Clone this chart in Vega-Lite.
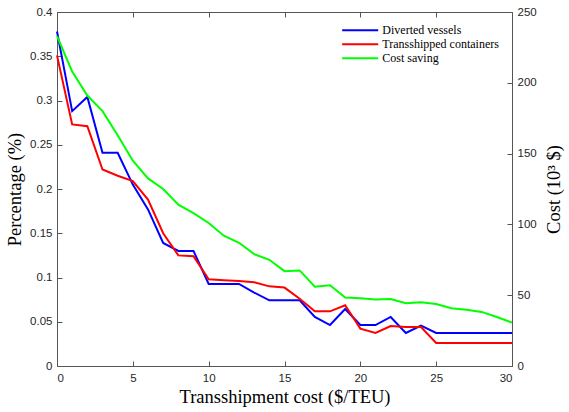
{
  "$schema": "https://vega.github.io/schema/vega-lite/v6.json",
  "width": 455,
  "height": 354,
  "autosize": "none",
  "padding": {"left": 57, "top": 12, "right": 57, "bottom": 46},
  "background": "white",
  "config": {
    "view": {"stroke": null},
    "axis": {
      "grid": false,
      "domain": true,
      "domainColor": "#555555",
      "ticks": true,
      "tickColor": "#555555",
      "tickSize": -5,
      "tickWidth": 1,
      "labelFont": "Liberation Sans",
      "labelFontSize": 11.5,
      "labelColor": "#262626",
      "titleFont": "Liberation Serif",
      "titleFontSize": 18.5,
      "titleFontWeight": "normal",
      "titleColor": "#000000"
    }
  },
  "data": {
    "values": [
      {"x": 0, "series": "Diverted vessels", "value": 0.378},
      {"x": 1, "series": "Diverted vessels", "value": 0.288},
      {"x": 2, "series": "Diverted vessels", "value": 0.304},
      {"x": 3, "series": "Diverted vessels", "value": 0.241},
      {"x": 4, "series": "Diverted vessels", "value": 0.241},
      {"x": 5, "series": "Diverted vessels", "value": 0.205},
      {"x": 6, "series": "Diverted vessels", "value": 0.177},
      {"x": 7, "series": "Diverted vessels", "value": 0.139},
      {"x": 8, "series": "Diverted vessels", "value": 0.130},
      {"x": 9, "series": "Diverted vessels", "value": 0.130},
      {"x": 10, "series": "Diverted vessels", "value": 0.0927},
      {"x": 11, "series": "Diverted vessels", "value": 0.0927},
      {"x": 12, "series": "Diverted vessels", "value": 0.0927},
      {"x": 13, "series": "Diverted vessels", "value": 0.083},
      {"x": 14, "series": "Diverted vessels", "value": 0.0742},
      {"x": 15, "series": "Diverted vessels", "value": 0.0742},
      {"x": 16, "series": "Diverted vessels", "value": 0.0742},
      {"x": 17, "series": "Diverted vessels", "value": 0.0554},
      {"x": 18, "series": "Diverted vessels", "value": 0.0463},
      {"x": 19, "series": "Diverted vessels", "value": 0.0644},
      {"x": 20, "series": "Diverted vessels", "value": 0.0463},
      {"x": 21, "series": "Diverted vessels", "value": 0.0463},
      {"x": 22, "series": "Diverted vessels", "value": 0.0554},
      {"x": 23, "series": "Diverted vessels", "value": 0.0373},
      {"x": 24, "series": "Diverted vessels", "value": 0.0456},
      {"x": 25, "series": "Diverted vessels", "value": 0.0373},
      {"x": 26, "series": "Diverted vessels", "value": 0.0373},
      {"x": 27, "series": "Diverted vessels", "value": 0.0373},
      {"x": 28, "series": "Diverted vessels", "value": 0.0373},
      {"x": 29, "series": "Diverted vessels", "value": 0.0373},
      {"x": 30, "series": "Diverted vessels", "value": 0.0373},
      {"x": 0, "series": "Transshipped containers", "value": 0.351},
      {"x": 1, "series": "Transshipped containers", "value": 0.273},
      {"x": 2, "series": "Transshipped containers", "value": 0.271},
      {"x": 3, "series": "Transshipped containers", "value": 0.222},
      {"x": 4, "series": "Transshipped containers", "value": 0.215},
      {"x": 5, "series": "Transshipped containers", "value": 0.209},
      {"x": 6, "series": "Transshipped containers", "value": 0.188},
      {"x": 7, "series": "Transshipped containers", "value": 0.150},
      {"x": 8, "series": "Transshipped containers", "value": 0.125},
      {"x": 9, "series": "Transshipped containers", "value": 0.124},
      {"x": 10, "series": "Transshipped containers", "value": 0.098},
      {"x": 11, "series": "Transshipped containers", "value": 0.097},
      {"x": 12, "series": "Transshipped containers", "value": 0.096},
      {"x": 13, "series": "Transshipped containers", "value": 0.0946},
      {"x": 14, "series": "Transshipped containers", "value": 0.090},
      {"x": 15, "series": "Transshipped containers", "value": 0.0886},
      {"x": 16, "series": "Transshipped containers", "value": 0.076},
      {"x": 17, "series": "Transshipped containers", "value": 0.0618},
      {"x": 18, "series": "Transshipped containers", "value": 0.0618},
      {"x": 19, "series": "Transshipped containers", "value": 0.0686},
      {"x": 20, "series": "Transshipped containers", "value": 0.0422},
      {"x": 21, "series": "Transshipped containers", "value": 0.0373},
      {"x": 22, "series": "Transshipped containers", "value": 0.0452},
      {"x": 23, "series": "Transshipped containers", "value": 0.044},
      {"x": 24, "series": "Transshipped containers", "value": 0.044},
      {"x": 25, "series": "Transshipped containers", "value": 0.026},
      {"x": 26, "series": "Transshipped containers", "value": 0.026},
      {"x": 27, "series": "Transshipped containers", "value": 0.026},
      {"x": 28, "series": "Transshipped containers", "value": 0.026},
      {"x": 29, "series": "Transshipped containers", "value": 0.026},
      {"x": 30, "series": "Transshipped containers", "value": 0.026},
      {"x": 0, "series": "Cost saving", "value": 233},
      {"x": 1, "series": "Cost saving", "value": 208},
      {"x": 2, "series": "Cost saving", "value": 191},
      {"x": 3, "series": "Cost saving", "value": 180},
      {"x": 4, "series": "Cost saving", "value": 163},
      {"x": 5, "series": "Cost saving", "value": 145},
      {"x": 6, "series": "Cost saving", "value": 132.5},
      {"x": 7, "series": "Cost saving", "value": 125},
      {"x": 8, "series": "Cost saving", "value": 114},
      {"x": 9, "series": "Cost saving", "value": 108},
      {"x": 10, "series": "Cost saving", "value": 101},
      {"x": 11, "series": "Cost saving", "value": 92},
      {"x": 12, "series": "Cost saving", "value": 87},
      {"x": 13, "series": "Cost saving", "value": 79},
      {"x": 14, "series": "Cost saving", "value": 75},
      {"x": 15, "series": "Cost saving", "value": 67},
      {"x": 16, "series": "Cost saving", "value": 67.5},
      {"x": 17, "series": "Cost saving", "value": 56},
      {"x": 18, "series": "Cost saving", "value": 57},
      {"x": 19, "series": "Cost saving", "value": 48.3},
      {"x": 20, "series": "Cost saving", "value": 47.8},
      {"x": 21, "series": "Cost saving", "value": 47},
      {"x": 22, "series": "Cost saving", "value": 47.3},
      {"x": 23, "series": "Cost saving", "value": 44.3},
      {"x": 24, "series": "Cost saving", "value": 45},
      {"x": 25, "series": "Cost saving", "value": 43.8},
      {"x": 26, "series": "Cost saving", "value": 40.8},
      {"x": 27, "series": "Cost saving", "value": 39.8},
      {"x": 28, "series": "Cost saving", "value": 38.2},
      {"x": 29, "series": "Cost saving", "value": 34.6},
      {"x": 30, "series": "Cost saving", "value": 30.6}
    ]
  },
  "layer": [
    {
      "transform": [{"filter": "datum.series !== 'Cost saving'"}],
      "mark": {"type": "line", "strokeWidth": 2},
      "encoding": {
        "x": {
          "field": "x", "type": "quantitative",
          "scale": {"domain": [0, 30], "nice": false},
          "axis": {"orient": "bottom", "values": [0, 5, 10, 15, 20, 25, 30], "title": "Transshipment cost ($/TEU)", "labelPadding": 11, "titlePadding": 4}
        },
        "y": {
          "field": "value", "type": "quantitative",
          "scale": {"domain": [0, 0.4], "nice": false},
          "axis": {"orient": "left", "values": [0, 0.05, 0.1, 0.15, 0.2, 0.25, 0.3, 0.35, 0.4], "format": "~g", "title": "Percentage (%)", "labelPadding": 10, "titlePadding": 5}
        },
        "color": {
          "field": "series", "type": "nominal",
          "scale": {"domain": ["Diverted vessels", "Transshipped containers", "Cost saving"], "range": ["#0000ff", "#ff0000", "#00ff00"]},
          "legend": {
            "orient": "none",
            "legendX": 284,
            "legendY": 10.7,
            "title": null,
            "symbolType": "M-2.85,0H2.85",
            "symbolSize": 160,
            "symbolOffset": 11.68,
            "symbolStrokeWidth": 2,
            "symbolFillColor": "transparent",
            "labelFont": "Liberation Serif",
            "labelFontSize": 12,
            "labelColor": "#000000",
            "rowPadding": 0,
            "labelOffset": 14.67
          }
        }
      }
    },
    {
      "transform": [{"filter": "datum.series === 'Cost saving'"}],
      "mark": {"type": "line", "strokeWidth": 2},
      "encoding": {
        "x": {
          "field": "x", "type": "quantitative",
          "scale": {"domain": [0, 30], "nice": false},
          "axis": {"orient": "top", "values": [0, 5, 10, 15, 20, 25, 30], "labels": false, "title": null}
        },
        "y": {
          "field": "value", "type": "quantitative",
          "scale": {"domain": [0, 250], "nice": false},
          "axis": {"orient": "right", "values": [0, 50, 100, 150, 200, 250], "title": "Cost (10³ $)", "titleAngle": -90, "titleBaseline": "top", "labelPadding": 10, "titlePadding": 8}
        },
        "color": {
          "field": "series", "type": "nominal",
          "scale": {"domain": ["Diverted vessels", "Transshipped containers", "Cost saving"], "range": ["#0000ff", "#ff0000", "#00ff00"]}
        }
      }
    }
  ],
  "resolve": {"scale": {"y": "independent"}, "axis": {"x": "independent"}}
}
